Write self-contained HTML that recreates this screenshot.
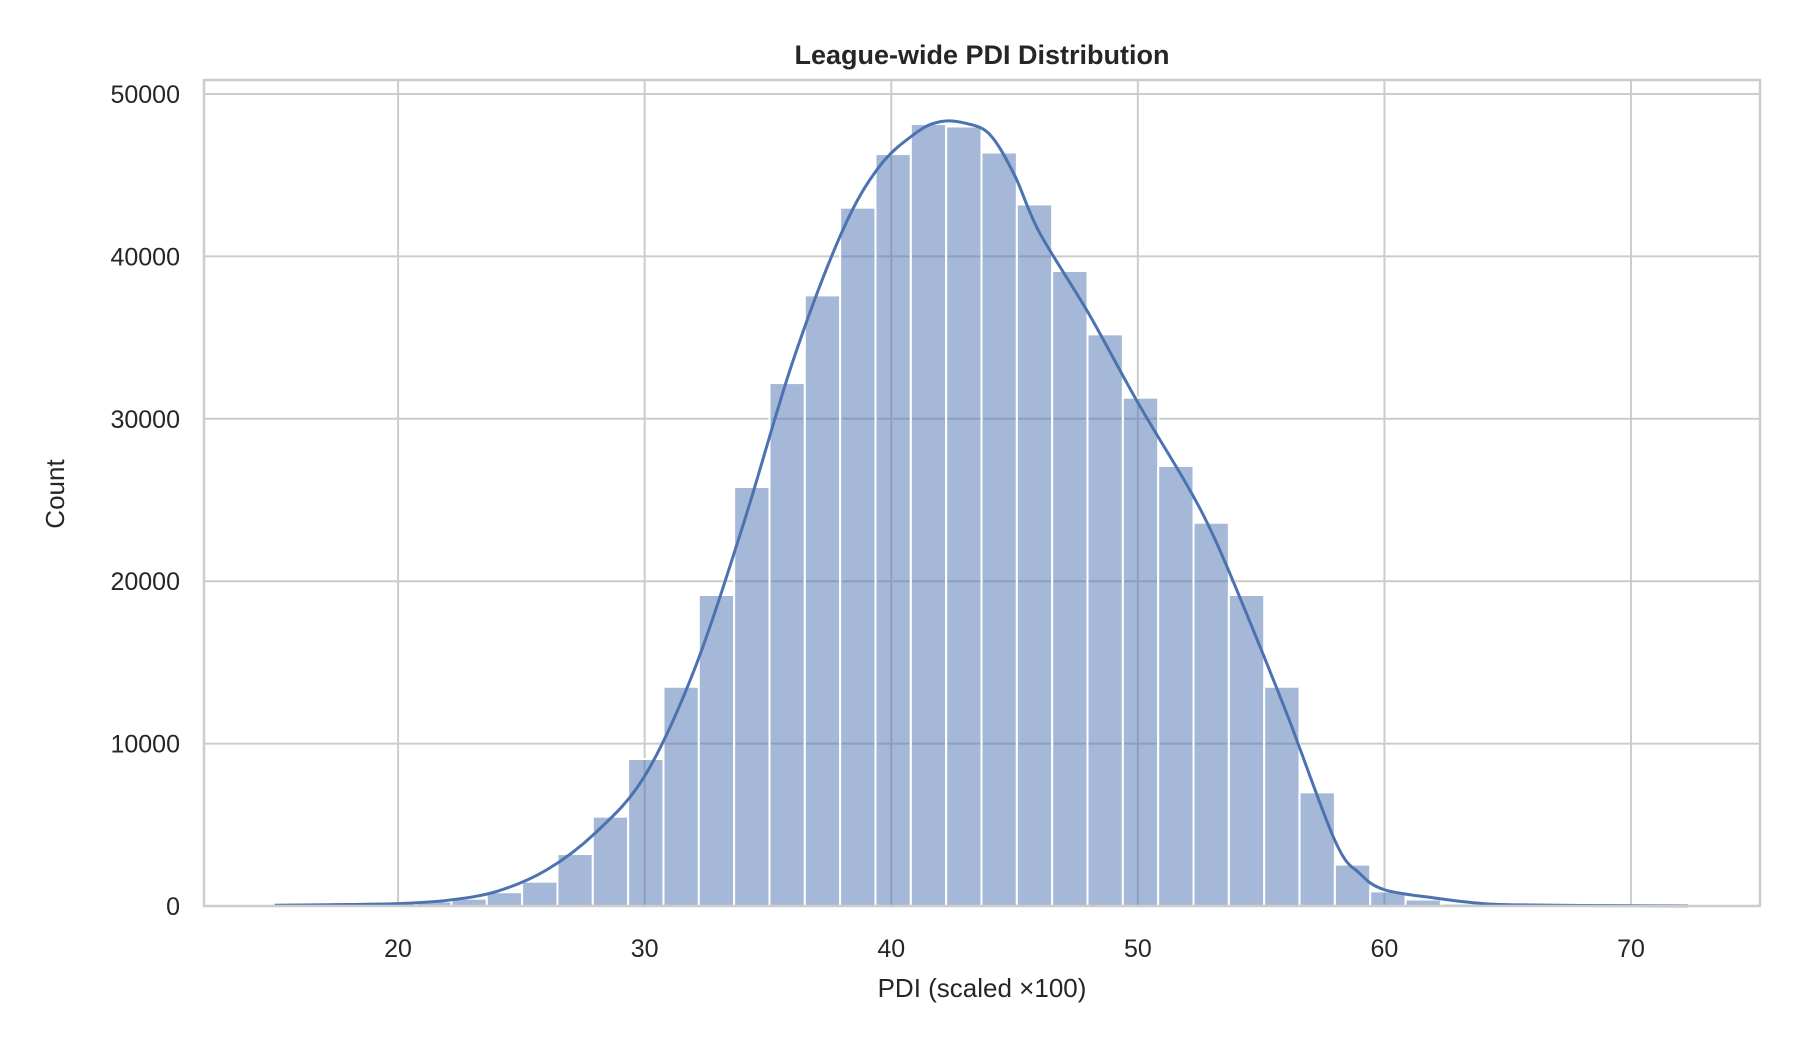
<!DOCTYPE html>
<html><head><meta charset="utf-8"><style>
html,body{margin:0;padding:0;background:#fff;}
svg{display:block;font-family:"Liberation Sans",sans-serif;}
</style></head><body>
<svg id="chart" width="1800" height="1050" viewBox="0 0 1800 1050" xmlns="http://www.w3.org/2000/svg">
<rect x="0" y="0" width="1800" height="1050" fill="#fff"/>
<g id="grid"></g>
<g id="bars"></g>
<path id="kde" fill="none" stroke="#4c72b0" stroke-width="3"/>
<rect x="204" y="80" width="1556" height="826" fill="none" stroke="#cccccc" stroke-width="2.5"/>
<g id="ticks"></g>
<text x="982" y="64" text-anchor="middle" font-size="27" font-weight="bold" fill="#262626">League-wide PDI Distribution</text>
<text x="982" y="997" text-anchor="middle" font-size="26" fill="#262626">PDI (scaled ×100)</text>
<text transform="translate(64,494) rotate(-90)" text-anchor="middle" font-size="26" fill="#262626">Count</text>
</svg>
<script>
const binStart = 15.0;
const binWidth = 1.433;
const counts = [40,60,100,170,280,450,850,1500,3200,5500,9050,13500,19150,25800,32200,37600,43000,46300,48150,48000,46400,43200,39100,35200,31300,27100,23600,19150,13500,7000,2550,900,400,150,80,50,30,20,10,10];
const kdeX = [15,18,20,22,24,26,28,30,32,34,36,38,39.5,41,42,43,44,45,46,48,50,52,53,54,56,58,59,60,62,64,66,70,72.3];
const kdeY = [50,90,150,350,900,2200,4500,8000,14500,23500,33500,41500,45500,47600,48300,48200,47500,45000,41500,36500,31000,25900,23000,19500,12000,4000,2000,1000,500,150,60,20,10];
const xTicks = [20,30,40,50,60,70];
const yTicks = [0,10000,20000,30000,40000,50000];
const X0=204,X1=1760,Y0=906,Y1=80;
const xMin=12.13, xMax=75.23;
const yAt0=906, yPer=162.4/10000;
const sx=v=>X0+(v-xMin)/(xMax-xMin)*(X1-X0);
const sy=v=>yAt0-v*yPer;
const NS="http://www.w3.org/2000/svg";
const grid=document.getElementById('grid'),bars=document.getElementById('bars'),ticks=document.getElementById('ticks');
function mk(tag,attrs,parent){const e=document.createElementNS(NS,tag);for(const k in attrs)e.setAttribute(k,attrs[k]);parent.appendChild(e);return e;}
xTicks.forEach(t=>{
  const l=mk('line',{x1:sx(t),x2:sx(t),y1:Y1,y2:Y0,stroke:'#cccccc','stroke-width':2},grid);
  
  
  const tx=mk('text',{x:sx(t),y:957,'text-anchor':'middle','font-size':25,fill:'#262626'},ticks);
  tx.textContent=t;
  
  
});
yTicks.forEach(t=>{
  const l=mk('line',{x1:X0,x2:X1,y1:sy(t),y2:sy(t),stroke:'#cccccc','stroke-width':2},grid);
  
  
  const tx=mk('text',{x:180,y:sy(t)+9,'text-anchor':'end','font-size':25,fill:'#262626'},ticks);
  tx.textContent=t;
  
  
});
counts.forEach((c,i)=>{
  const a=binStart+i*binWidth,b=a+binWidth;
  const r=mk('rect',{x:sx(a),y:sy(c),width:sx(b)-sx(a),height:sy(0)-sy(c),fill:'rgba(76,114,176,0.5)',stroke:'#fff','stroke-width':2},bars);
  
  
});
const pts=kdeX.map((x,i)=>[sx(x),sy(kdeY[i])]);
let d='M'+pts[0][0]+','+pts[0][1];
for(let i=0;i<pts.length-1;i++){
  const p0=pts[Math.max(0,i-1)],p1=pts[i],p2=pts[i+1],p3=pts[Math.min(pts.length-1,i+2)];
  const c1=[p1[0]+(p2[0]-p0[0])/6,p1[1]+(p2[1]-p0[1])/6];
  const c2=[p2[0]-(p3[0]-p1[0])/6,p2[1]-(p3[1]-p1[1])/6];
  d+=` C${c1[0]},${c1[1]} ${c2[0]},${c2[1]} ${p2[0]},${p2[1]}`;
}
document.getElementById('kde').setAttribute('d',d);
</script>
</body></html>
